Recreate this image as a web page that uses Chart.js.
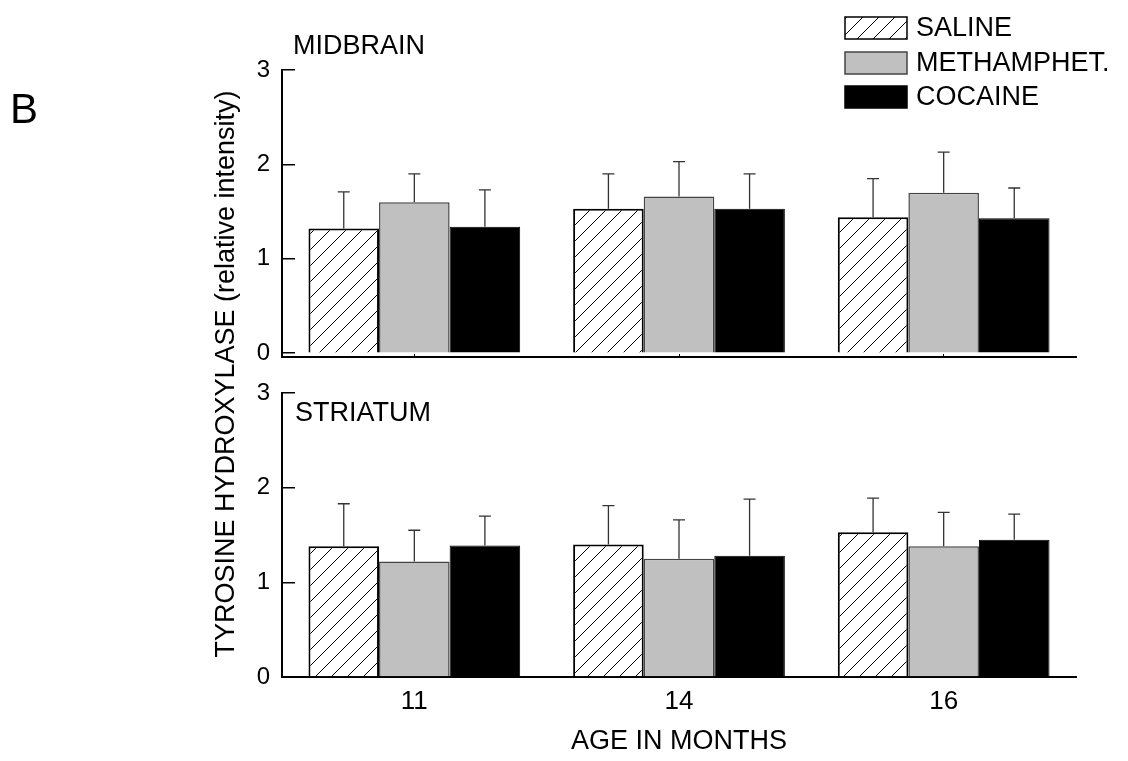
<!DOCTYPE html>
<html>
<head>
<meta charset="utf-8">
<title>Tyrosine hydroxylase by age</title>
<script src="https://cdn.jsdelivr.net/npm/chart.js@4.4.1/dist/chart.umd.min.js"></script>
<style>
  body { margin: 0; background: #fff; }
  #wrap { position: relative; width: 1128px; height: 761px; }
  canvas { position: absolute; left: 0; top: 0; }
</style>
</head>
<body>
<div id="wrap">
  <canvas id="midCanvas" width="1128" height="761"></canvas>
  <canvas id="strCanvas" width="1128" height="761"></canvas>
</div>
<script>
// data
const ages = ['11', '14', '16'];
const yTicks = [0, 1, 2, 3];

const midSaline = [1.32, 1.53, 1.44];
const midSalineErr = [0.39, 0.37, 0.41];
const midMeth = [1.60, 1.66, 1.70];
const midMethErr = [0.30, 0.37, 0.43];
const midCocaine = [1.34, 1.53, 1.43];
const midCocaineErr = [0.39, 0.37, 0.32];

const strSaline = [1.38, 1.40, 1.53];
const strSalineErr = [0.45, 0.41, 0.36];
const strMeth = [1.22, 1.25, 1.38];
const strMethErr = [0.33, 0.41, 0.36];
const strCocaine = [1.39, 1.28, 1.45];
const strCocaineErr = [0.31, 0.60, 0.27];

const FONT = "'Liberation Sans', Arial, sans-serif";
Chart.defaults.font.family = FONT;
Chart.defaults.color = '#000';

// diagonal hatch for the saline bars
function hatch(ctx) {
  const c = document.createElement('canvas');
  c.width = 16; c.height = 16;
  const g = c.getContext('2d');
  g.fillStyle = '#fff';
  g.fillRect(0, 0, 16, 16);
  g.strokeStyle = '#000';
  g.lineWidth = 1;
  g.beginPath();
  g.moveTo(0, 16); g.lineTo(16, 0);
  g.moveTo(-2, 2); g.lineTo(2, -2);
  g.moveTo(14, 18); g.lineTo(18, 14);
  g.stroke();
  return ctx.createPattern(c, 'repeat');
}

function datasets(ctx, sal, salErr, meth, methErr, coc, cocErr) {
  return [
    { label: 'SALINE', data: sal, errors: salErr, backgroundColor: hatch(ctx), borderColor: '#000', borderWidth: 2 },
    { label: 'METHAMPHET.', data: meth, errors: methErr, backgroundColor: '#c0c0c0', borderColor: '#444', borderWidth: 1.5 },
    { label: 'COCAINE', data: coc, errors: cocErr, backgroundColor: '#000', borderColor: '#000', borderWidth: 1 }
  ];
}

// upper error bars only
const errorBars = {
  id: 'errorBars',
  afterDatasetsDraw(chart) {
    const ctx = chart.ctx, y = chart.scales.y;
    ctx.save();
    ctx.strokeStyle = '#333';
    ctx.lineWidth = 1.3;
    chart.data.datasets.forEach((ds, i) => {
      chart.getDatasetMeta(i).data.forEach((bar, j) => {
        const top = y.getPixelForValue(ds.data[j] + ds.errors[j]);
        ctx.beginPath();
        ctx.moveTo(bar.x, bar.y);
        ctx.lineTo(bar.x, top);
        ctx.moveTo(bar.x - 6, top);
        ctx.lineTo(bar.x + 6, top);
        ctx.stroke();
      });
    });
    ctx.restore();
  }
};

function yScale(min) {
  return {
    min: min,
    max: 3,
    afterBuildTicks: s => { s.ticks = yTicks.map(v => ({ value: v })); },
    afterFit: s => { s.width = 282; },
    border: { color: '#000', width: 2 },
    grid: { drawOnChartArea: false, tickLength: -13, color: '#000', lineWidth: 1.5 },
    ticks: { padding: 25, font: { size: 24 } }
  };
}

// top panel: midbrain, legend, panel letter
const midCtx = document.getElementById('midCanvas').getContext('2d');
new Chart(midCtx, {
  type: 'bar',
  data: { labels: ages, datasets: datasets(midCtx, midSaline, midSalineErr, midMeth, midMethErr, midCocaine, midCocaineErr) },
  options: {
    responsive: false,
    animation: false,
    categoryPercentage: 0.8,
    barPercentage: 1.0,
    layout: { autoPadding: false, padding: { left: 0, right: 52, top: 70, bottom: 404 } },
    plugins: { legend: { display: false }, tooltip: { enabled: false } },
    scales: {
      x: {
        offset: true,
        afterFit: s => { s.height = 0; },
        border: { color: '#000', width: 2 },
        grid: { offset: false, drawOnChartArea: false, tickLength: -3, color: '#000' },
        ticks: { display: false }
      },
      y: yScale(-0.04)
    }
  },
  plugins: [errorBars, {
    id: 'midText',
    afterDraw(chart) {
      const ctx = chart.ctx;
      ctx.save();
      ctx.fillStyle = '#000';
      ctx.textBaseline = 'alphabetic';
      ctx.font = '42px ' + FONT;
      ctx.fillText('B', 10, 123);
      ctx.font = '27px ' + FONT;
      ctx.fillText('MIDBRAIN', 293, 54);
      // legend
      const tops = [17, 52, 86];
      chart.data.datasets.forEach((ds, i) => {
        ctx.fillStyle = ds.backgroundColor;
        ctx.fillRect(845, tops[i], 62, 22);
        ctx.strokeStyle = ds.borderColor;
        ctx.lineWidth = 1.5;
        ctx.strokeRect(845, tops[i], 62, 22);
        ctx.fillStyle = '#000';
        ctx.textBaseline = 'middle';
        ctx.fillText(ds.label, 916, tops[i] + 12);
      });
      ctx.restore();
    }
  }]
});

// bottom panel: striatum, shared axis titles
const strCtx = document.getElementById('strCanvas').getContext('2d');
new Chart(strCtx, {
  type: 'bar',
  data: { labels: ages, datasets: datasets(strCtx, strSaline, strSalineErr, strMeth, strMethErr, strCocaine, strCocaineErr) },
  options: {
    responsive: false,
    animation: false,
    categoryPercentage: 0.8,
    barPercentage: 1.0,
    layout: { autoPadding: false, padding: { left: 0, right: 52, top: 393, bottom: 0 } },
    plugins: { legend: { display: false }, tooltip: { enabled: false } },
    scales: {
      x: {
        offset: true,
        afterFit: s => { s.height = 84; },
        border: { color: '#000', width: 2 },
        grid: { offset: false, drawOnChartArea: false, tickLength: -3, color: '#000' },
        ticks: { padding: 12, font: { size: 26 } },
        title: { display: true, text: 'AGE IN MONTHS', font: { size: 27 }, padding: { top: 0, bottom: 3 } }
      },
      y: yScale(0)
    }
  },
  plugins: [errorBars, {
    id: 'strText',
    afterDraw(chart) {
      const ctx = chart.ctx;
      ctx.save();
      ctx.fillStyle = '#000';
      ctx.font = '27px ' + FONT;
      ctx.textBaseline = 'alphabetic';
      ctx.fillText('STRIATUM', 295, 421);
      ctx.translate(234, 374);
      ctx.rotate(-Math.PI / 2);
      ctx.textAlign = 'center';
      ctx.fillText('TYROSINE HYDROXYLASE (relative intensity)', 0, 0);
      ctx.restore();
    }
  }]
});
</script>
</body>
</html>
